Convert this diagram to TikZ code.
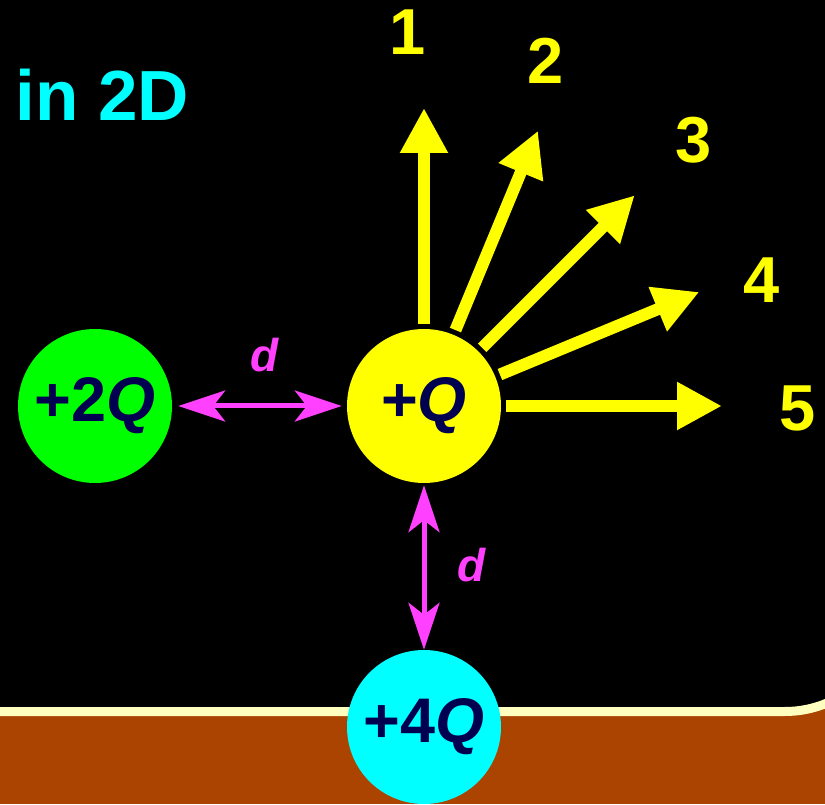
\documentclass[tikz,border=0pt]{standalone}
\usepackage{fontspec}
\setmainfont{Liberation Sans}
\usetikzlibrary{calc,arrows.meta,positioning}
\definecolor{board}{RGB}{0,0,0}
\definecolor{ground}{RGB}{170,68,0}
\definecolor{rim}{RGB}{255,255,192}
\definecolor{field}{RGB}{255,255,0}
\definecolor{gap}{RGB}{255,64,255}
\definecolor{ink}{RGB}{0,0,80}
\definecolor{twoq}{RGB}{0,255,0}
\definecolor{fourq}{RGB}{0,255,255}

\begin{document}
\begin{tikzpicture}[x=1pt, y=1pt,
    charge/.style={circle, minimum size=154pt, inner sep=0pt, text=ink, font=\fontsize{63}{63}\selectfont\bfseries},
    fieldline/.style={field, line width=12pt, -{Triangle[length=45pt,width=45pt]}, shorten <=5pt},
    spacing/.style={gap, line width=5pt, {Stealth[length=47pt,width=31pt,inset=12pt]}-{Stealth[length=47pt,width=31pt,inset=12pt]}},
    tag/.style={text=field, font=\fontsize{65}{65}\selectfont\bfseries},
    dist/.style={text=gap, font=\fontsize{46}{46}\selectfont\bfseries\itshape}]
    \useasboundingbox (0,0) rectangle (825,804);
    \clip (0,0) rectangle (825,804);
    \fill[ground] (0,0) rectangle (825,804);
    \draw[rim, line width=9pt, fill=board, rounded corners=108pt] (-300,92.5) rectangle (893,817);
    \node[anchor=base west, text=fourq, font=\fontsize{71}{71}\selectfont\bfseries] (title) at (12,683) {in 2D};
    \node[charge, fill=field] (q) at (424,398) {+\textit{Q}};
    \node[charge, fill=twoq] (plus2) at (95,398) {+2\textit{Q}};
    \node[charge, fill=fourq] (plus4) at (424,77) {+4\textit{Q}};
    \foreach \n/\a/\lx/\ly in {1/90/408/771.5,2/67.5/545.5/743.5,3/45/694/664,4/22.5/762/524,5/0/798/395.5} {
      \path (q.center) ++(\a:298) coordinate (tip\n);
      \draw[fieldline] (q) -- (tip\n);
      \node[tag] (num\n) at (\lx,\ly) {\n};
    }
    \draw[spacing, shorten <=6pt, shorten >=5pt] (plus2) -- (q);
    \node[dist] (dx) at (265,449) {d};
    \draw[spacing, shorten <=2pt] (q) -- (plus4);
    \node[dist] (dy) at (472,239) {d};
  \end{tikzpicture}
\end{document}
